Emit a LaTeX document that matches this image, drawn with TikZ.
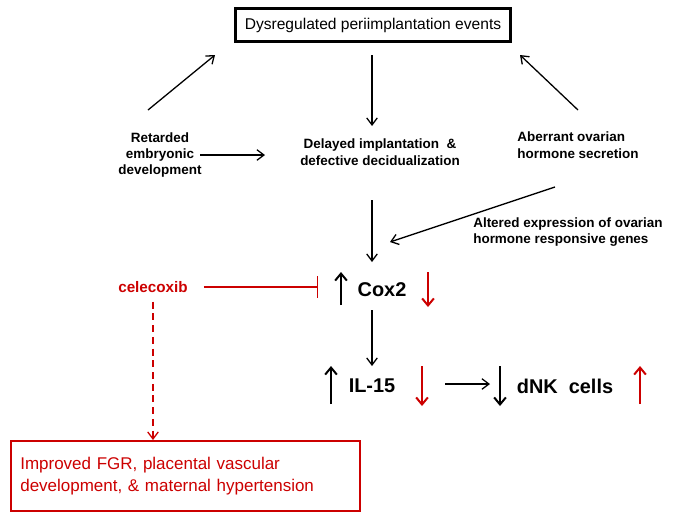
\documentclass[tikz,border=0pt]{standalone}
\usepackage{fontspec}
\setmainfont{Liberation Sans}
\usetikzlibrary{arrows.meta,positioning}
\tikzset{
  lbl/.style={font=\bfseries\fontsize{11.5}{14}\selectfont, align=center},
  conn/.style={-{Straight Barb[length=6pt,width=9pt]}, line width=1.1pt},
  big/.style={font=\bfseries\fontsize{17}{20}\selectfont},
  upar/.style={-{Straight Barb[length=6pt,width=10pt]}, line width=1.7pt},
}
\begin{document}
\begin{tikzpicture}[x=0.03cm,y=-0.03cm]
	\useasboundingbox (0,0) rectangle (700,522);
	% top box
		\node[draw, line width=2pt, font=\fontsize{13.3}{16}\selectfont,
		      inner xsep=8pt, inner ysep=8pt] (events) at (373,25) {Dysregulated periimplantation events};
	% causes
		\node[lbl] (retard) at (160,155) {Retarded\\embryonic\\development};
		\node[lbl] (delay) at (380,152) {Delayed implantation ~\&\\defective decidualization};
		\node[lbl, align=left] (aberr) at (578,145) {Aberrant ovarian\\hormone secretion};
		\node[lbl, align=left] (alter) at (568,232) {Altered expression of ovarian\\hormone responsive genes};
		\coordinate (r1) at (148,110); \coordinate (r2) at (215,55);
		\coordinate (a1) at (578,110); \coordinate (a2) at (520,55);
		\coordinate (d1) at (372,55);  \coordinate (d2) at (372,126);
		\coordinate (ra) at (200,155); \coordinate (rb) at (265,155);
		\draw[conn] (r1) -- (r2);
		\draw[conn] (a1) -- (a2);
		\draw[conn] (d1) -- (d2);
		\draw[conn] (ra) -- (rb);
	% cox2
		\node[big] (cox) at (382,290) {Cox2};
		\coordinate (c1) at (372,200); \coordinate (c2) at (372,262);
		\coordinate (e1) at (555,187); \coordinate (e2) at (390,242);
		\draw[conn] (c1) -- (c2);
		\draw[conn] (e1) -- (e2);
		\draw[upar] (341,305) -- (341,272);
		\draw[upar, red!80!black] (428,272) -- (428,307);
	% celecoxib
		\node[lbl, red!80!black, font=\bfseries\fontsize{13}{15}\selectfont] (cele) at (153,287) {celecoxib};
		\draw[red!80!black, line width=1.1pt, -{Bar[width=18pt]}] (cele.east)++(12,0) -- (318,287);
	% il-15 row
		\node[big] (il) at (372,386) {IL-15};
		\node[big] (dnk) at (565,386) {dNK~ cells};
		\coordinate (f1) at (372,310); \coordinate (f2) at (372,366);
		\draw[conn] (f1) -- (f2);
		\draw[conn] (445,384) -- (490,384);
		\draw[upar] (331,404) -- (331,366);
		\draw[upar, red!80!black] (422,366) -- (422,406);
		\draw[upar] (500,366) -- (500,406);
		\draw[upar, red!80!black] (640,404) -- (640,366);
	% outcome
		\node[draw=red!80!black, line width=1.6pt, text=red!80!black, align=left, anchor=north west,
		      font=\fontsize{14.5}{19}\selectfont, text width=330*0.03cm, minimum height=70*0.03cm,
		      inner xsep=8pt] (out) at (10,440)
		      {Improved FGR, placental vascular\\development, \& maternal hypertension};
		\draw[red!80!black, dash pattern=on 6pt off 4pt, line width=1.1pt, -{Straight Barb[length=6pt,width=9pt]}]
		      (cele.south) ++(0,5) -- (out.north -| cele.south);
\end{tikzpicture}
\end{document}
